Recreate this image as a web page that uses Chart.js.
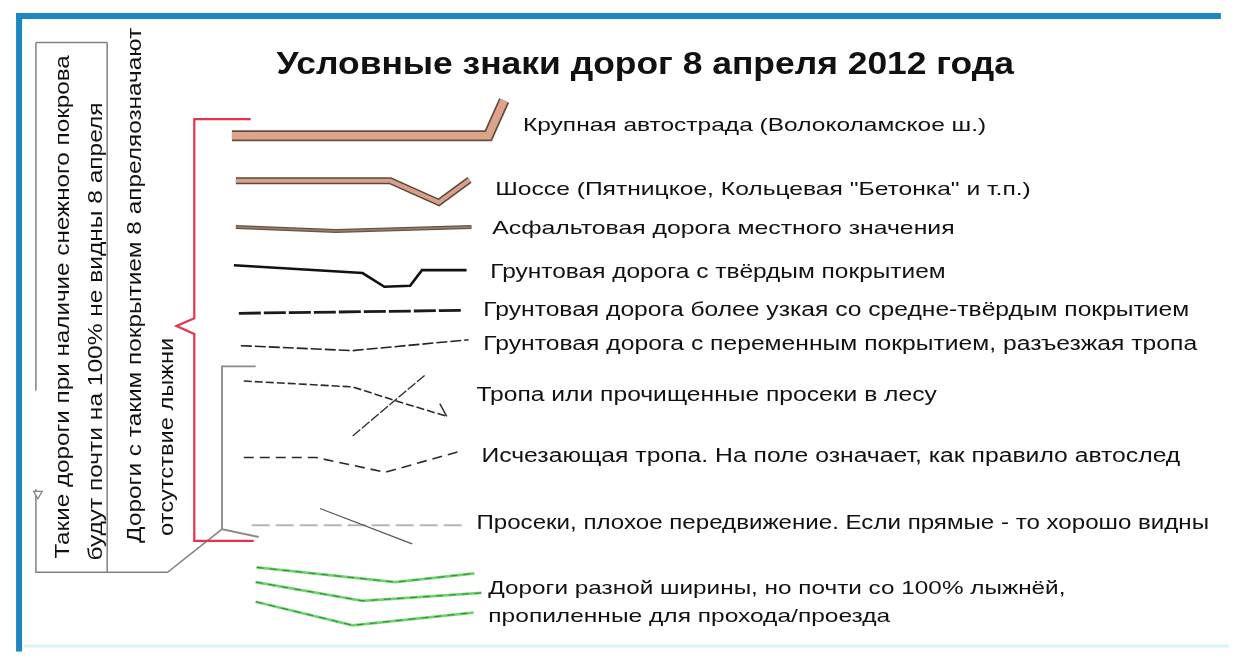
<!DOCTYPE html>
<html>
<head>
<meta charset="utf-8">
<script src="https://cdn.jsdelivr.net/npm/chart.js@4.4.1/dist/chart.umd.min.js"></script>
<style>
html,body{margin:0;padding:0;background:#fff;}
canvas{display:block;}
</style>
</head>
<body>
<canvas id="c" width="1235" height="658"></canvas>
<script>
// ---- Data: legend symbol polylines (diagram coordinates) ----
const autostrada    = [[228,132],[487,132],[503,96]];
const shosse        = [[232,178],[388,178],[437,200],[468,177]];
const asphalt       = [[232,225],[333,229],[470,225]];
const gruntHard     = [[230,264],[360,272],[382,286],[408,285],[420,269],[465,269]];
const gruntNarrow   = [[235,313],[462,310]];
const gruntVariable = [[237,346],[350,351],[467,340]];
const forestPath    = [[240,382],[350,388],[393,402],[445,418]];
const forestTick    = [[438,405],[445,418]];
const forestCross   = [[350,438],[423,376]];
const fadingPath    = [[240,460],[313,460],[383,475],[457,454]];
const clearing      = [[248,529],[465,529]];
const clearingCross = [[317,512],[410,548]];
const skiRoadA      = [[253,572],[393,587],[473,578]];
const skiRoadB      = [[252,587],[360,606],[480,598]];
const skiRoadC      = [[252,607],[350,631],[472,618]];

// brackets / boxes
const redBrace      = [[247,115],[190,115],[190,318],[172,326],[190,334],[190,545],[250,545]];
const greyBracket   = [[252,367],[218,367],[218,533],[255,541]];
const boxTop        = [[30,37],[102,37]];
const boxDivider    = [[102,37],[102,577]];
const boxLeftUpper  = [[30,37],[30,392]];
const boxLeftLower  = [[30,492],[30,577],[163,577],[218,533]];
const boxMarker     = [[32,497]];

// frame
const frameLeft     = [[13,7],[13,658]];
const frameTop      = [[10,10],[1227,10]];
const frameBottom   = [[18,652],[1235,652]];

// ---- Texts ----
const titleText = "Условные знаки дорог 8 апреля 2012 года";
const roadLabels = [
  "Крупная автострада (Волоколамское ш.)",
  "Шоссе (Пятницкое, Кольцевая \"Бетонка\" и т.п.)",
  "Асфальтовая дорога местного значения",
  "Грунтовая дорога с твёрдым покрытием",
  "Грунтовая дорога более узкая со средне-твёрдым покрытием",
  "Грунтовая дорога с переменным покрытием, разъезжая тропа",
  "Тропа или прочищенные просеки в лесу",
  "Исчезающая тропа. На поле означает, как правило автослед",
  "Просеки, плохое передвижение. Если прямые - то хорошо видны",
  "Дороги разной ширины, но почти со 100% лыжнёй,",
  "пропиленные для прохода/проезда"
];
const sideNotes = [
  "Такие дороги при наличие снежного покрова",
  "будут почти на 100% не видны 8 апреля",
  "Дороги с таким покрытием 8 апреляозначают",
  "отсутствие лыжни"
];

// ---- Layout (positions / styles) ----
const labelLayout = [
  {x:522,y:122,w:468,f:19},{x:494,y:187,w:541,f:19},{x:491,y:227,w:467,f:19},{x:489,y:271,w:460,f:20},
  {x:482,y:310,w:713,f:20},{x:482,y:345,w:721,f:20},{x:475,y:397,w:465,f:20},{x:480,y:459,w:706,f:20},
  {x:475,y:527,w:740,f:20},{x:487,y:594,w:583,f:19},{x:487,y:622,w:406,f:19}
];
const sideLayout = [
  {cx:58,y0:563,y1:50},{cx:91,y0:565,y1:98},{cx:131,y0:547,y1:22},{cx:163,y0:540,y1:338}
];
const titleLayout = {x:273,y:60,w:745};

const pts = a => a.map(p => ({x:p[0], y:p[1]}));
function line(arr, color, width, dash){
  return {data:pts(arr), borderColor:color, borderWidth:width, borderDash:dash||[],
    showLine:true, pointRadius:0, fill:false, tension:0, borderJoinStyle:'miter', borderCapStyle:'butt'};
}

const layers = [
  line(frameBottom,'#d6f3f7',3),
  line(frameLeft,'#1b86bf',6),
  line(frameTop,'#1b86bf',6),
  line(boxTop,'#808080',1.5),
  line(boxDivider,'#808080',1.5),
  line(boxLeftUpper,'#808080',1.5),
  line(boxLeftLower,'#808080',1.5),
  {data:pts(boxMarker), showLine:false, pointStyle:'triangle', rotation:180, pointRadius:5,
   pointBorderColor:'#808080', pointBackgroundColor:'#ffffff', pointBorderWidth:1.2},
  line(redBrace,'#e5334d',2.2),
  line(greyBracket,'#8a8a8a',1.8),
  line(autostrada,'#6a4d40',11),
  line(autostrada,'#dba48b',7.5),
  line(shosse,'#5e463c',7),
  line(shosse,'#d6a18b',4),
  line(asphalt,'#6a5346',4),
  line(asphalt,'#9a7f70',1.5),
  line(gruntHard,'#111111',2.6),
  line(gruntNarrow,'#1a1a1a',2.8,[22,3]),
  line(gruntVariable,'#222222',1.6,[11,3]),
  line(forestPath,'#2a2a2a',1.6,[8,3]),
  line(forestTick,'#2a2a2a',1.4),
  line(forestCross,'#2a2a2a',1.3,[10,2]),
  line(fadingPath,'#2a2a2a',1.6,[10,6]),
  line(clearing,'#b5b5b5',2.2,[18,6]),
  line(clearingCross,'#555555',1.2),
  line(skiRoadA,'#6bd66b',2.8),
  line(skiRoadA,'rgba(40,60,40,0.6)',1,[7,6]),
  line(skiRoadB,'#6bd66b',2.8),
  line(skiRoadB,'rgba(40,60,40,0.6)',1,[7,6]),
  line(skiRoadC,'#6bd66b',2.8),
  line(skiRoadC,'rgba(40,60,40,0.6)',1,[7,6])
];
// later layers on top: lower order is drawn last
layers.forEach((d,i) => { d.order = layers.length - i; });

function fitText(ctx, txt, x, y, w, font){
  ctx.save();
  ctx.font = font;
  const m = ctx.measureText(txt).width;
  ctx.translate(x, y);
  ctx.scale(w / m, 1);
  ctx.fillText(txt, 0, 0);
  ctx.restore();
}

const textPlugin = {
  id:'texts',
  beforeDraw(chart){
    const c = chart.ctx;
    c.save(); c.fillStyle='#ffffff'; c.fillRect(0,0,chart.width,chart.height); c.restore();
  },
  afterDatasetsDraw(chart){
    const c = chart.ctx, sx = chart.scales.x, sy = chart.scales.y;
    const X = v => sx.getPixelForValue(v), Y = v => sy.getPixelForValue(v);
    c.save();
    c.fillStyle = '#111111';
    c.textBaseline = 'middle';
    c.textAlign = 'left';
    fitText(c, titleText, X(titleLayout.x), Y(titleLayout.y), X(titleLayout.x+titleLayout.w)-X(titleLayout.x),
      'bold 32px "Liberation Sans", Arial, sans-serif');
    roadLabels.forEach((t,i) => {
      const L = labelLayout[i];
      fitText(c, t, X(L.x), Y(L.y), X(L.x+L.w)-X(L.x), L.f + 'px "Liberation Sans", Arial, sans-serif');
    });
    sideNotes.forEach((t,i) => {
      const L = sideLayout[i];
      c.save();
      c.translate(X(L.cx), Y(L.y0));
      c.rotate(-Math.PI/2);
      fitText(c, t, 0, 0, Y(L.y0)-Y(L.y1), '20px "Liberation Sans", Arial, sans-serif');
      c.restore();
    });
    c.restore();
  }
};

new Chart(document.getElementById('c'), {
  type:'scatter',
  data:{datasets:layers},
  options:{
    responsive:false,
    animation:false,
    layout:{padding:0},
    plugins:{legend:{display:false}, tooltip:{enabled:false}},
    scales:{
      x:{type:'linear', min:0, max:1235, display:false},
      y:{type:'linear', min:0, max:658, reverse:true, display:false}
    }
  },
  plugins:[textPlugin]
});
</script>
</body>
</html>
